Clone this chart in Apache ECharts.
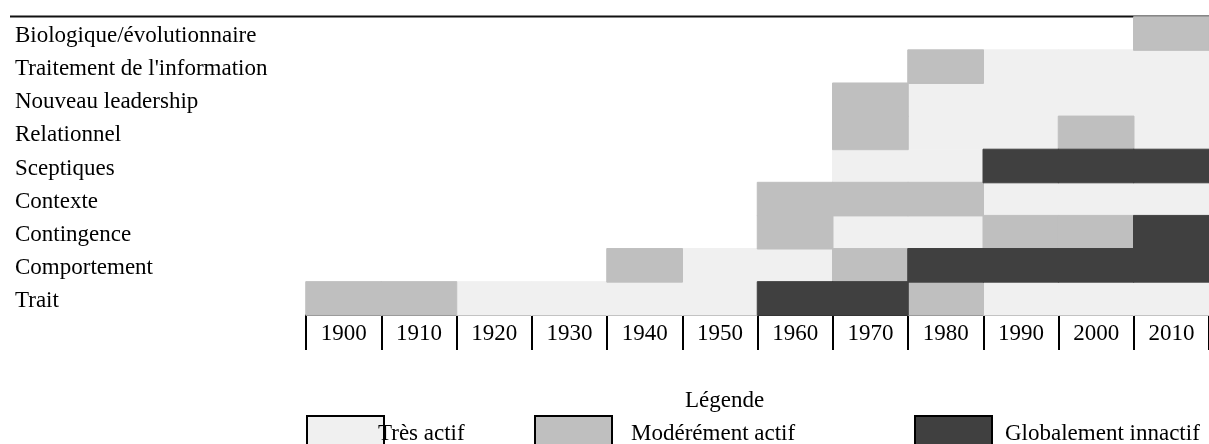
<!DOCTYPE html>
<html>
<head>
<meta charset="utf-8">
<script src="https://cdn.jsdelivr.net/npm/echarts@6/dist/echarts.min.js"></script>
<style>
  html, body { margin: 0; padding: 0; background: #fff; }
  #chart { width: 1209px; height: 444px; }
</style>
</head>
<body>
<div id="chart"></div>
<script>
// Decades along the bottom
const years = ['1900', '1910', '1920', '1930', '1940', '1950', '1960', '1970', '1980', '1990', '2000', '2010'];

// Approaches, bottom row first
const approaches = ['Trait', 'Comportement', 'Contingence', 'Contexte', 'Sceptiques',
    'Relationnel', 'Nouveau leadership', "Traitement de l'information", 'Biologique/évolutionnaire'];

// Status per decade: 0 = none, 1 = très actif, 2 = modérément actif, 3 = globalement innactif
const trait          = [2, 2, 1, 1, 1, 1, 3, 3, 2, 1, 1, 1];
const comportement   = [0, 0, 0, 0, 2, 1, 1, 2, 3, 3, 3, 3];
const contingence    = [0, 0, 0, 0, 0, 0, 2, 1, 1, 2, 2, 3];
const contexte       = [0, 0, 0, 0, 0, 0, 2, 2, 2, 1, 1, 1];
const sceptiques     = [0, 0, 0, 0, 0, 0, 0, 1, 1, 3, 3, 3];
const relationnel    = [0, 0, 0, 0, 0, 0, 0, 2, 1, 1, 2, 1];
const nouveau        = [0, 0, 0, 0, 0, 0, 0, 2, 1, 1, 1, 1];
const traitement     = [0, 0, 0, 0, 0, 0, 0, 0, 2, 1, 1, 1];
const biologique     = [0, 0, 0, 0, 0, 0, 0, 0, 0, 0, 0, 2];

const statusNames = ['Très actif', 'Modérément actif', 'Globalement innactif'];
const statusColors = ['#f0f0f0', '#bfbfbf', '#404040'];

const rows = [trait, comportement, contingence, contexte, sceptiques,
    relationnel, nouveau, traitement, biologique];

const FONT = '"Liberation Serif", "Times New Roman", serif';
const FS = 23;

// one heatmap series per status
function cellsFor(code) {
    const out = [];
    rows.forEach((row, y) => {
        row.forEach((v, x) => {
            if (v === code) out.push([x, y, v]);
        });
    });
    return out;
}

const series = statusNames.map((name, i) => ({
    name: name,
    type: 'heatmap',
    data: cellsFor(i + 1),
    itemStyle: { color: statusColors[i], borderColor: statusColors[i], borderWidth: 1 },
    emphasis: { disabled: true },
    silent: true
}));

// legend boxes sit at fixed spots under the columns
const legendLefts = [306, 534, 914];
const legendTextPad = [[0, 0, 0, -11], [0, 0, 0, 14], [0, 0, 0, 8]];

const legends = statusNames.map((name, i) => ({
    data: [{ name: name, icon: 'rect' }],
    left: legendLefts[i],
    top: 415,
    padding: 0,
    itemWidth: 77,
    itemHeight: 36,
    selectedMode: false,
    itemStyle: { borderColor: '#000', borderWidth: 2 },
    textStyle: { fontFamily: FONT, fontSize: FS, color: '#000', padding: legendTextPad[i] }
}));

const chart = echarts.init(document.getElementById('chart'));

chart.setOption({
    backgroundColor: '#fff',
    animation: false,
    title: {
        text: 'Légende',
        left: 685,
        top: 389,
        padding: 0,
        textStyle: { fontFamily: FONT, fontSize: FS, fontWeight: 'normal', color: '#000' }
    },
    legend: legends,
    grid: {
        left: 306,
        top: 17,
        width: 911,
        height: 298
    },
    xAxis: {
        type: 'category',
        data: years,
        splitArea: { show: false },
        axisLine: { show: true, lineStyle: { color: '#000', width: 2 } },
        axisTick: { show: true, length: 35, lineStyle: { color: '#000', width: 2 } },
        axisLabel: { fontFamily: FONT, fontSize: FS, color: '#000', margin: 7 }
    },
    yAxis: {
        type: 'category',
        data: approaches,
        axisLine: { show: false },
        axisTick: { show: false },
        splitArea: { show: false },
        axisLabel: {
            align: 'left',
            margin: 291,
            formatter: '{a|{value}}',
            rich: {
                a: { fontFamily: FONT, fontSize: FS, color: '#000', padding: [5, 0, 0, 0] }
            }
        }
    },
    graphic: [{
        type: 'line',
        shape: { x1: 10, y1: 16.5, x2: 1209, y2: 16.5 },
        style: { stroke: '#111', lineWidth: 2 },
        silent: true
    }],
    series: series
});

window.addEventListener('resize', () => chart.resize());
</script>
</body>
</html>
